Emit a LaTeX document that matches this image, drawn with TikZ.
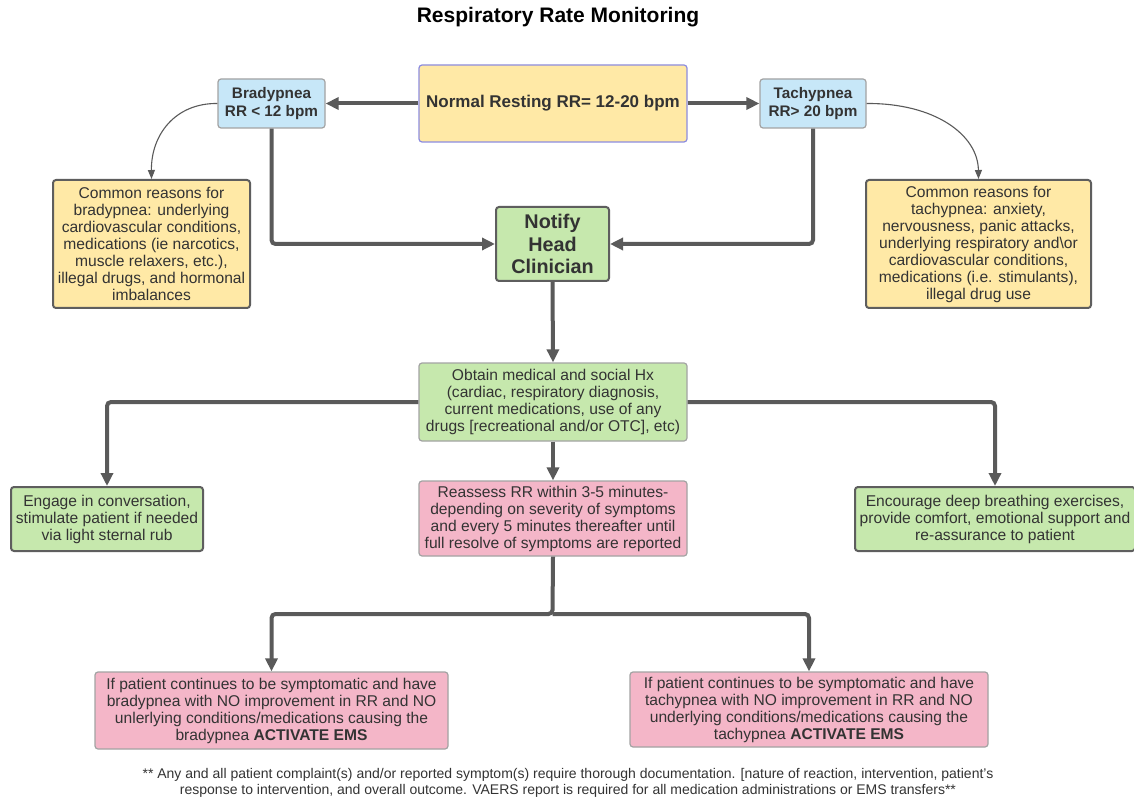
\documentclass[tikz,border=0pt]{standalone}
\usepackage{fontspec}
\setmainfont{Liberation Sans}
\usetikzlibrary{arrows.meta}
\definecolor{txt}{HTML}{333333}
\definecolor{lnc}{HTML}{5A5A5A}
\definecolor{yel}{HTML}{FFE9A6}
\definecolor{blu}{HTML}{C7E7F8}
\definecolor{grn}{HTML}{C6E8AD}
\definecolor{pnk}{HTML}{F4B6C8}
\definecolor{bdark}{HTML}{5E5E5E}
\definecolor{blight}{HTML}{A3A3A3}
\definecolor{bpur}{HTML}{8C8CE0}
\tikzset{
  box/.style={draw, rounded corners=3pt, line width=1.2pt, align=center, inner sep=0pt, text=txt,
     font=\fontsize{15.6}{17}\selectfont},
  darkbox/.style={box, draw=bdark, line width=2pt},
  lightbox/.style={box, draw=blight},
  conn/.style={draw=lnc, line width=4pt, rounded corners=4pt,
     -{Triangle[length=13pt,width=12pt]}},
  thin/.style={draw=lnc, line width=1.1pt, -{Triangle[length=9pt,width=7pt]}},
}
\begin{document}
\begin{tikzpicture}[x=1pt,y=-1pt]
\useasboundingbox[fill=white] (0,0) rectangle (1134,799);

\node[font=\fontsize{21}{24}\selectfont\bfseries, text=black] (title) at (558,17) {Respiratory Rate Monitoring};

\node[box, draw=bpur, fill=yel, minimum width=268pt, minimum height=77pt, font=\fontsize{17}{19}\selectfont\bfseries] (normal) at (553,103.5) {Normal Resting RR= 12-20 bpm};

\node[lightbox, fill=blu, minimum width=107pt, minimum height=49pt, font=\fontsize{15.3}{17.5}\selectfont\bfseries] (brady) at (271.5,103.5) {Bradypnea\\RR < 12 bpm};
\node[lightbox, fill=blu, minimum width=106pt, minimum height=49pt, font=\fontsize{15.3}{17.5}\selectfont\bfseries] (tachy) at (813,103.5) {Tachypnea\\RR> 20 bpm};

\node[darkbox, fill=yel, minimum width=197pt, minimum height=128pt] (bcause) at (151.5,244) {Common reasons for\\bradypnea: underlying\\cardiovascular conditions,\\medications (ie narcotics,\\muscle relaxers, etc.),\\illegal drugs, and hormonal\\imbalances};
\node[darkbox, fill=yel, minimum width=225pt, minimum height=128pt] (tcause) at (978.5,244) {Common reasons for\\tachypnea: anxiety,\\nervousness, panic attacks,\\underlying respiratory and\textbackslash or\\cardiovascular conditions,\\medications (i.e. stimulants),\\illegal drug use};

\node[darkbox, fill=grn, minimum width=113pt, minimum height=74pt, font=\fontsize{19.8}{22.5}\selectfont\bfseries] (notify) at (552.5,244) {Notify\\Head\\Clinician};

\node[lightbox, fill=grn, minimum width=268pt, minimum height=78pt] (obtain) at (553,402) {Obtain medical and social Hx\\(cardiac, respiratory diagnosis,\\current medications, use of any\\drugs [recreational and/or OTC], etc)};

\node[darkbox, fill=grn, minimum width=192pt, minimum height=64pt] (engage) at (107,519) {Engage in conversation,\\stimulate patient if needed\\via light sternal rub};
\node[darkbox, fill=grn, minimum width=280pt, minimum height=64pt] (encour) at (995,519) {Encourage deep breathing exercises,\\provide comfort, emotional support and\\re-assurance to patient};

\node[lightbox, fill=pnk, minimum width=268pt, minimum height=75pt] (reass) at (553,518.5) {Reassess RR within 3-5 minutes-\\depending on severity of symptoms\\and every 5 minutes thereafter until\\full resolve of symptoms are reported};

\node[lightbox, fill=pnk, minimum width=353pt, minimum height=77pt] (bems) at (271.5,710.5) {If patient continues to be symptomatic and have\\bradypnea with NO improvement in RR and NO\\unlerlying conditions/medications causing the\\bradypnea \textbf{ACTIVATE EMS}};
\node[lightbox, fill=pnk, minimum width=358pt, minimum height=75pt] (tems) at (809,709.5) {If patient continues to be symptomatic and have\\tachypnea with NO improvement in RR and NO\\underlying conditions/medications causing the\\tachypnea \textbf{ACTIVATE EMS}};

\node[align=center, text=txt, font=\fontsize{14}{16}\selectfont] (foot) at (568,783) {** Any and all patient complaint(s) and/or reported symptom(s) require thorough documentation. [nature of reaction, intervention, patient's\\response to intervention, and overall outcome. VAERS report is required for all medication administrations or EMS transfers**};

% connectors
\draw[conn] (normal.west) -- (brady.east);
\draw[conn] (normal.east) -- (tachy.east -| tachy.west);
\draw[thin] (brady.west) .. controls (175,103) and (151,135) .. (bcause.north);
\draw[thin] (tachy.east) .. controls (935,103) and (978,135) .. (tcause.north);
\draw[conn] (brady.south) |- (notify.west);
\draw[conn] (tachy.south) |- (notify.east);
\draw[conn] (notify.south) -- (obtain.north);
\draw[conn] (obtain.west) -| (engage.north);
\draw[conn] (obtain.east) -| (encour.north);
\draw[conn] (obtain.south) -- (reass.north);
\coordinate (split) at (552.5,614);
\draw[conn] (reass.south) -- (split) -| (bems.north);
\draw[conn] (split) -| (tems.north);
\end{tikzpicture}
\end{document}
